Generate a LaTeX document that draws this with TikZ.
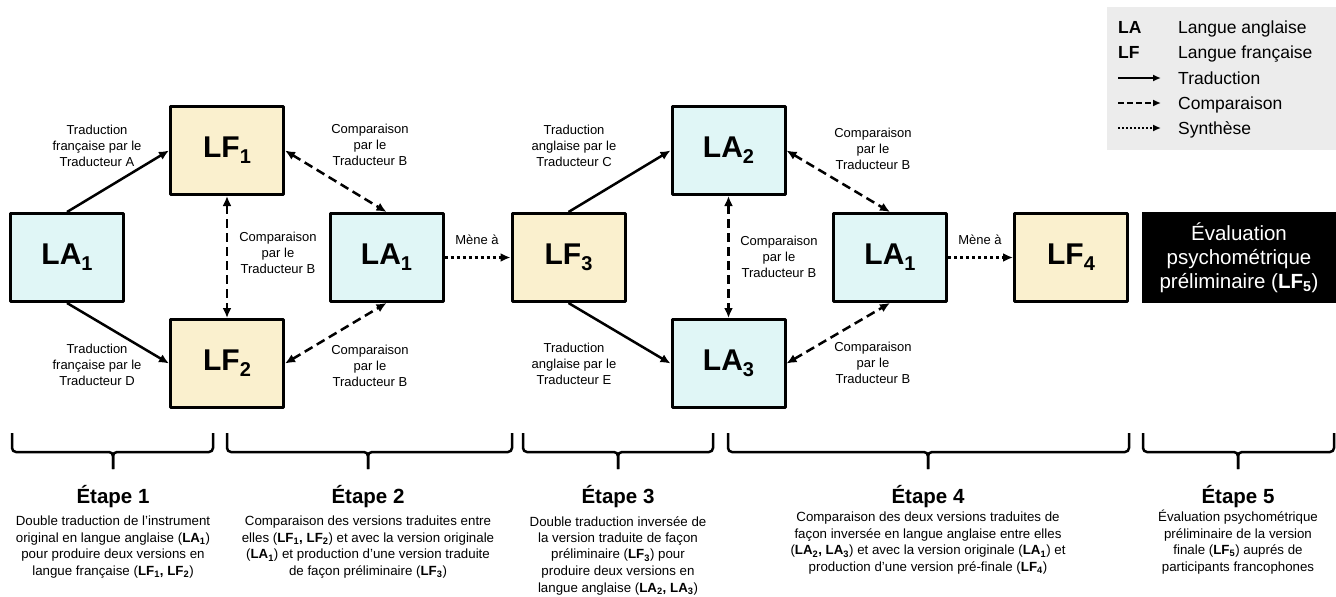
\documentclass[tikz,border=0pt]{standalone}
\usepackage{fontspec}
\setmainfont{Liberation Sans}
\usetikzlibrary{arrows.meta}
\definecolor{cyanbox}{RGB}{224,246,246}
\definecolor{creambox}{RGB}{250,240,206}
\definecolor{legendbg}{RGB}{236,236,236}
\newcommand{\vers}[2]{{\fontsize{30}{36}\selectfont\bfseries #1\raisebox{-6pt}{\fontsize{20}{24}\selectfont #2}}}
\newcommand{\pet}[2]{\textbf{#1\textsubscript{#2}}}
\begin{document}
\begin{tikzpicture}[x=1pt, y=-1pt, line join=round, >={Latex[length=10pt,width=9pt]},
	boite/.style={draw, line width=3pt, minimum width=113pt, minimum height=88pt, inner sep=0pt},
	la/.style={boite, fill=cyanbox},
	lf/.style={boite, fill=creambox},
	trad/.style={->, line width=2.5pt},
	comp/.style={<->, line width=2.5pt, dash pattern=on 9pt off 5pt},
	synth/.style={->, line width=2.5pt, dash pattern=on 3pt off 3pt},
	etiq/.style={align=center, font=\fontsize{13}{15.8}\selectfont, inner sep=0pt},
	accol/.style={line width=2.5pt, rounded corners=4pt},
	titre/.style={font=\fontsize{20.5}{24}\selectfont\bfseries, anchor=base},
	descr/.style={align=center, font=\fontsize{13.3}{16.5}\selectfont, anchor=north, inner sep=0pt},
	leg/.style={anchor=base west, inner sep=0pt, font=\fontsize{17.5}{20}\selectfont}]
	\useasboundingbox (0,0) rectangle (1336,597);
	% legende
	\fill[legendbg] (1107,7) rectangle (1336,150);
	\node[leg, font=\fontsize{17.5}{20}\selectfont\bfseries] (kLA) at (1118,33) {LA};
	\node[leg] (tLA) at (1178,33) {Langue anglaise};
	\node[leg, font=\fontsize{17.5}{20}\selectfont\bfseries] (kLF) at (1118,58) {LF};
	\node[leg] (tLF) at (1178,58) {Langue française};
	\node[leg] (tTr) at (1178,84) {Traduction};
	\node[leg] (tCo) at (1178,109) {Comparaison};
	\node[leg] (tSy) at (1178,134) {Synthèse};
	\coordinate (a1) at (1118,78); \coordinate (b1) at (1161,78);
	\coordinate (a2) at (1118,103); \coordinate (b2) at (1161,103);
	\coordinate (a3) at (1118,128); \coordinate (b3) at (1161,128);
	\begin{scope}[>={Latex[length=8pt,width=7pt]}]
		\draw[trad, line width=2.2pt] (a1) -- (b1);
		\draw[->, line width=2.2pt, dash pattern=on 6pt off 3pt] (a2) -- (b2);
		\draw[synth, line width=2.2pt, dash pattern=on 2pt off 2pt] (a3) -- (b3);
	\end{scope}
	% boites
	\node[la] (la1) at (67,257.5) {\vers{LA}{1}};
	\node[lf] (lf1) at (227,150.5) {\vers{LF}{1}};
	\node[lf] (lf2) at (227,363.5) {\vers{LF}{2}};
	\node[la] (la1b) at (386.5,257.5) {\vers{LA}{1}};
	\node[lf] (lf3) at (568.5,257.5) {\vers{LF}{3}};
	\node[la] (la2) at (728.5,150.5) {\vers{LA}{2}};
	\node[la] (la3) at (728.5,363.5) {\vers{LA}{3}};
	\node[la] (la1c) at (890,257.5) {\vers{LA}{1}};
	\node[lf] (lf4) at (1071,257.5) {\vers{LF}{4}};
	\node[fill=black, text=white, minimum width=194pt, minimum height=91pt, inner sep=0pt, align=center,
		font=\fontsize{20.5}{24}\selectfont] (eval) at (1239,257.5)
		{Évaluation\\psychométrique\\préliminaire (\textbf{LF\textsubscript{5}})};
	% fleches
	\draw[trad] (la1.north) -- (lf1.west);
	\draw[trad] (la1.south) -- (lf2.west);
	\draw[comp] (lf1.east) -- (la1b.north);
	\draw[comp] (lf2.east) -- (la1b.south);
	\draw[comp] (lf1.south) -- (lf2.north);
	\draw[synth] (la1b.east) -- (lf3.west);
	\draw[trad] (lf3.north) -- (la2.west);
	\draw[trad] (lf3.south) -- (la3.west);
	\draw[comp] (la2.east) -- (la1c.north);
	\draw[comp] (la3.east) -- (la1c.south);
	\draw[comp] (la2.south) -- (la3.north);
	\draw[synth] (la1c.east) -- (lf4.west);
	% etiquettes
	\node[etiq] (eA) at (97,146) {Traduction\\française par le\\Traducteur A};
	\node[etiq] (eD) at (97,365) {Traduction\\française par le\\Traducteur D};
	\node[etiq] (eB1) at (370,145) {Comparaison\\par le\\Traducteur B};
	\node[etiq] (eB2) at (278,253) {Comparaison\\par le\\Traducteur B};
	\node[etiq] (eB3) at (370,366) {Comparaison\\par le\\Traducteur B};
	\node[etiq] (m1) at (477,240) {Mène à};
	\node[etiq] (eC) at (574,146) {Traduction\\anglaise par le\\Traducteur C};
	\node[etiq] (eE) at (574,364) {Traduction\\anglaise par le\\Traducteur E};
	\node[etiq] (eB4) at (779,257) {Comparaison\\par le\\Traducteur B};
	\node[etiq] (eB5) at (873,149) {Comparaison\\par le\\Traducteur B};
	\node[etiq] (eB6) at (873,363) {Comparaison\\par le\\Traducteur B};
	\node[etiq] (m2) at (980,240) {Mène à};
	% etapes
	\foreach \g/\d/\m [count=\i] in {12/213/113, 227/512/368, 523/713/618, 728/1129/928, 1143/1334/1238} {
		\draw[accol] (\g,433) -- (\g,452) -- (\m,452) -- (\m,469);
		\draw[accol] (\d,433) -- (\d,452) -- (\m,452) -- (\m,469);
		\node[titre] (etape\i) at (\m,503) {Étape \i};
	}
	\node[descr] (d1) at (113,516) {Double traduction de l’instrument\\original en langue anglaise (\pet{LA}{1})\\pour produire deux versions en\\langue française (\textbf{LF\textsubscript{1}, LF\textsubscript{2}})};
	\node[descr] (d2) at (368,516) {Comparaison des versions traduites entre\\elles (\textbf{LF\textsubscript{1}, LF\textsubscript{2}}) et avec la version originale\\(\pet{LA}{1}) et production d’une version traduite\\de façon préliminaire (\pet{LF}{3})};
	\node[descr] (d3) at (618,516) {Double traduction inversée de\\la version traduite de façon\\préliminaire (\pet{LF}{3}) pour\\produire deux versions en\\langue anglaise (\textbf{LA\textsubscript{2}, LA\textsubscript{3}})};
	\node[descr] (d4) at (928,512) {Comparaison des deux versions traduites de\\façon inversée en langue anglaise entre elles\\(\textbf{LA\textsubscript{2}, LA\textsubscript{3}}) et avec la version originale (\pet{LA}{1}) et\\production d’une version pré-finale (\pet{LF}{4})};
	\node[descr] (d5) at (1238,510) {Évaluation psychométrique\\préliminaire de la version\\finale (\pet{LF}{5}) auprés de\\participants francophones};
\end{tikzpicture}
\end{document}
